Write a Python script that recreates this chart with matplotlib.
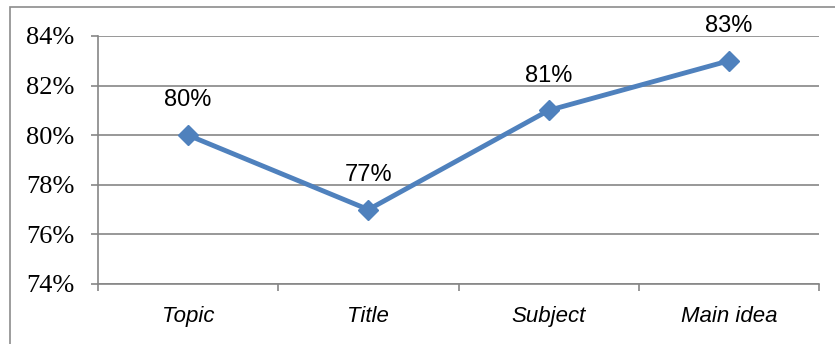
import matplotlib.pyplot as plt
from matplotlib.patches import Rectangle
from matplotlib.ticker import FuncFormatter

categories = ["Topic", "Title", "Subject", "Main idea"]
values = [80, 77, 81, 83]
y_ticks = [74, 76, 78, 80, 82, 84]

line_color = "#4F81BD"
grid_color = "#868686"

fig = plt.figure(figsize=(8.35, 3.44), dpi=100)
ax = fig.add_axes([98 / 835, 1 - 284 / 344, (819 - 98) / 835, (284 - 36) / 344])

# outer chart frame (only left and top edges fall inside the image)
fig.patches.append(Rectangle((10 / 835, -0.1), 1.2, 1.1 - 7 / 344, transform=fig.transFigure,
                             fill=False, edgecolor="#8c8c8c", linewidth=1.2))

x = [i + 0.5 for i in range(len(categories))]
ax.plot(x, values, color=line_color, linewidth=3.5, marker="D", markersize=10,
        markeredgecolor=line_color, zorder=3, clip_on=False)

for xi, v in zip(x, values):
    ax.annotate(f"{v}%", (xi, v), xytext=(0, 25), textcoords="offset points",
                ha="center", va="center", fontsize=17,
                family=["Liberation Sans", "DejaVu Sans"])

ax.set_xlim(0, len(categories))
ax.set_ylim(74, 84)
ax.set_yticks(y_ticks)
ax.yaxis.set_major_formatter(FuncFormatter(lambda v, _: f"{v:.0f}%"))
ax.set_xticks(x)
ax.set_xticklabels(categories, fontsize=16, style="italic", family=["Liberation Sans", "DejaVu Sans"])
ax.set_xticks(range(len(categories) + 1), minor=True)
ax.tick_params(axis="x", which="major", length=0, pad=16)
ax.tick_params(axis="x", which="minor", length=5, width=1.2, color=grid_color, direction="out")
ax.tick_params(axis="y", length=5, width=1.2, color=grid_color, pad=12)
for lab in ax.get_yticklabels():
    lab.set_family(["Liberation Serif", "DejaVu Serif"])
    lab.set_fontsize(19)

ax.grid(axis="y", color=grid_color, linewidth=1.2)
ax.set_axisbelow(True)
for side in ["top", "right"]:
    ax.spines[side].set_visible(False)
for side in ["left", "bottom"]:
    ax.spines[side].set_color(grid_color)
    ax.spines[side].set_linewidth(1.2)

fig.savefig("out.png", dpi=100)
